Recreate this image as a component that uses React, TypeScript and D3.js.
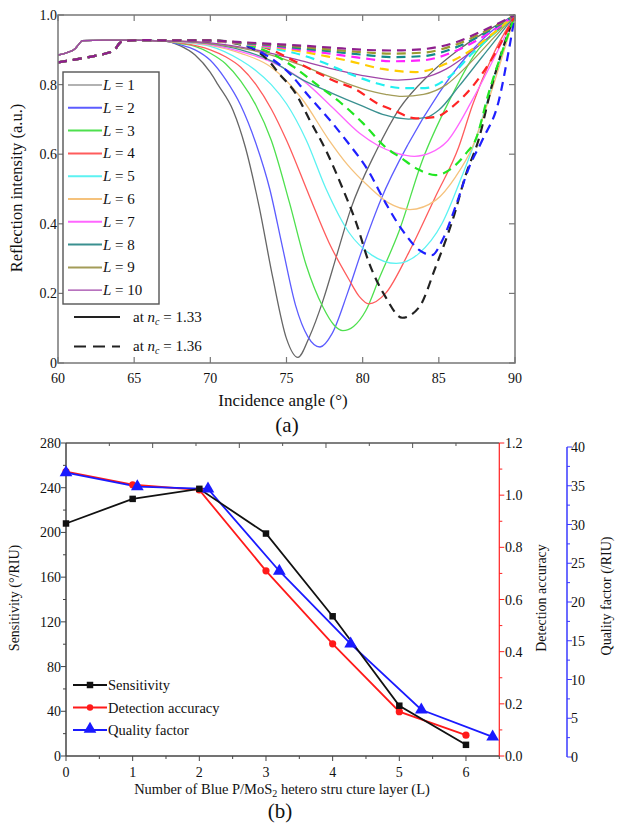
import React from "react";
import * as d3 from "d3";

const W = 617;
const H = 829;
const FONT = '"Liberation Serif", "DejaVu Serif", "Times New Roman", serif';

// ---------- panel (a): reflection curves ----------
const angleTicks = [60, 65, 70, 75, 80, 85, 90];
const reflTicks = [0, 0.2, 0.4, 0.6, 0.8, 1.0];
const layerNames = ["1", "2", "3", "4", "5", "6", "7", "8", "9", "10"];

const solidColors = ["#666666", "#5c5cff", "#4ee04e", "#ff5c5c", "#5cf2f2", "#f5c27c", "#ff66ff", "#3a9090", "#a39c58", "#a045a8"];
const dashedColors = ["#222222", "#1f1fff", "#22e622", "#ff2424", "#22f0f0", "#ffcc00", "#ff22ff", "#128a8a", "#9a9a30", "#8e1e8e"];

// shared flat start of curves (n_c = 1.33 / 1.36)
const headSolid = [[60, 0.885], [60.6, 0.892], [61.1, 0.902], [61.35, 0.915], [61.6, 0.926], [63, 0.928], [65, 0.928], [67, 0.925]];
const headDashed = [[60, 0.864], [61, 0.871], [62, 0.879], [63, 0.888], [63.7, 0.899], [64, 0.917], [64.3, 0.926], [66, 0.928], [67, 0.927]];

// n_c = 1.33
const l1Solid = [[68, 0.912], [69, 0.885], [70, 0.835], [70.5, 0.8], [71.5, 0.725], [72.3, 0.62], [73.2, 0.45], [74.1, 0.245], [75, 0.07], [75.75, 0.016], [76.5, 0.075], [77.4, 0.18], [78.3, 0.31], [79.2, 0.44], [80.9, 0.61], [82.4, 0.73], [84.4, 0.83], [86.3, 0.9], [88, 0.95], [90, 1]];
const l2Solid = [[68, 0.915], [69, 0.9], [70, 0.87], [71, 0.815], [72, 0.74], [73, 0.63], [73.9, 0.5], [74.75, 0.33], [75.6, 0.165], [76.4, 0.076], [77.2, 0.046], [78, 0.085], [79, 0.2], [80, 0.33], [81.2, 0.47], [83, 0.63], [85, 0.775], [86.8, 0.88], [88.5, 0.955], [90, 1]];
const l3Solid = [[68, 0.918], [69, 0.91], [70, 0.89], [71, 0.86], [72, 0.81], [73, 0.74], [74, 0.64], [75.2, 0.46], [76.3, 0.28], [77.4, 0.16], [78.1, 0.11], [78.7, 0.093], [79.4, 0.105], [80.2, 0.15], [81.1, 0.245], [82.4, 0.38], [83.9, 0.58], [85.7, 0.755], [87.4, 0.89], [89.4, 0.975], [90, 1]];
const l4Solid = [[68, 0.92], [70, 0.9], [71, 0.88], [72, 0.85], [73, 0.8], [74, 0.73], [75, 0.64], [76.5, 0.48], [77.8, 0.345], [79.1, 0.24], [79.8, 0.19], [80.4, 0.17], [81.5, 0.2], [83, 0.315], [84.8, 0.48], [86.3, 0.62], [87.2, 0.74], [88.5, 0.88], [90, 1]];
const l5Solid = [[68, 0.922], [70, 0.91], [72, 0.87], [73, 0.84], [74, 0.8], [75, 0.745], [76.3, 0.64], [77.6, 0.5], [79.1, 0.375], [80.6, 0.31], [82.2, 0.286], [83.7, 0.315], [85.2, 0.4], [86.5, 0.535], [87.4, 0.64], [88.5, 0.8], [89.3, 0.91], [90, 1]];
const l6Solid = [[68, 0.923], [70, 0.913], [72, 0.89], [74, 0.85], [76, 0.76], [77.8, 0.64], [79, 0.57], [80.4, 0.507], [81.7, 0.46], [83.1, 0.441], [84.8, 0.468], [86.1, 0.535], [87.2, 0.62], [88.3, 0.76], [89.3, 0.9], [90, 1]];
const l7Solid = [[68, 0.924], [70, 0.915], [72, 0.895], [74, 0.865], [76, 0.815], [78, 0.735], [79.8, 0.66], [81, 0.625], [82.2, 0.603], [83.4, 0.594], [84.5, 0.605], [85.5, 0.635], [87.2, 0.756], [88.9, 0.9], [90, 1]];
const l8Solid = [[68, 0.924], [70, 0.917], [72, 0.9], [74, 0.868], [76, 0.815], [78, 0.775], [80, 0.738], [81.5, 0.712], [83, 0.701], [84.2, 0.706], [85, 0.727], [86.3, 0.794], [87.85, 0.88], [89.3, 0.96], [90, 1]];
const l9Solid = [[68, 0.925], [70, 0.918], [72, 0.905], [74, 0.885], [76, 0.855], [78, 0.82], [80, 0.788], [81.5, 0.772], [82.6, 0.766], [84, 0.772], [85.5, 0.8], [87, 0.86], [88.5, 0.93], [90, 1]];
const l10Solid = [[68, 0.925], [70, 0.92], [72, 0.908], [74, 0.89], [76, 0.868], [78, 0.845], [80, 0.826], [82.3, 0.813], [84, 0.82], [85.5, 0.845], [87, 0.89], [88.5, 0.945], [90, 1]];

// n_c = 1.36
const l1Dashed = [[70, 0.925], [72, 0.915], [73, 0.898], [74, 0.86], [74.5, 0.832], [75.6, 0.775], [76.5, 0.7], [77.6, 0.61], [78.7, 0.5], [79.6, 0.4], [80.4, 0.29], [81.5, 0.19], [82.6, 0.13], [83.7, 0.16], [84.8, 0.277], [85.9, 0.41], [86.8, 0.545], [87.6, 0.64], [88.5, 0.8], [89.4, 0.93], [90, 1]];
const l2Dashed = [[70, 0.926], [72, 0.918], [73, 0.9], [74, 0.875], [75.2, 0.832], [76.5, 0.765], [78, 0.69], [79, 0.635], [80.4, 0.55], [81.5, 0.46], [82.6, 0.382], [83.7, 0.325], [84.55, 0.31], [85.2, 0.35], [86.1, 0.45], [87, 0.564], [87.85, 0.64], [88.95, 0.756], [89.6, 0.9], [90, 1]];
const l3Dashed = [[70, 0.926], [72, 0.918], [74, 0.89], [75.5, 0.85], [77, 0.8], [78.5, 0.75], [80, 0.69], [81.5, 0.62], [82.5, 0.59], [83.7, 0.555], [84.8, 0.54], [85.7, 0.555], [86.8, 0.603], [87.4, 0.64], [88.3, 0.78], [89.2, 0.9], [90, 1]];
const l4Dashed = [[70, 0.926], [72, 0.92], [74, 0.9], [75.4, 0.87], [77, 0.835], [78, 0.813], [79.6, 0.785], [81, 0.745], [82, 0.727], [83.5, 0.703], [84.8, 0.707], [85.9, 0.737], [87.2, 0.794], [88.7, 0.89], [90, 1]];
const l5Dashed = [[70, 0.926], [72, 0.918], [74, 0.905], [76, 0.885], [77.5, 0.862], [79.1, 0.832], [80.9, 0.804], [82.6, 0.79], [84.1, 0.79], [85.7, 0.823], [87.2, 0.89], [88.7, 0.95], [90, 1]];
const l6Dashed = [[70, 0.926], [72, 0.918], [74, 0.908], [76, 0.895], [78, 0.878], [79.1, 0.868], [81.3, 0.845], [83.5, 0.836], [85.2, 0.855], [86.8, 0.89], [88.5, 0.945], [90, 1]];
const l7Dashed = [[70, 0.926], [72, 0.919], [74, 0.91], [76, 0.9], [78, 0.888], [80, 0.876], [82, 0.867], [84, 0.87], [86, 0.895], [88, 0.94], [90, 1]];
const l8Dashed = [[70, 0.927], [72, 0.92], [74, 0.913], [76, 0.904], [78, 0.895], [80, 0.886], [82, 0.879], [84, 0.882], [86, 0.905], [88, 0.947], [90, 1]];
const l9Dashed = [[70, 0.927], [72, 0.921], [74, 0.915], [76, 0.908], [78, 0.9], [80, 0.893], [82, 0.889], [84, 0.892], [86, 0.913], [88, 0.952], [90, 1]];
const l10Dashed = [[70, 0.927], [72, 0.922], [74, 0.917], [76, 0.912], [78, 0.906], [80, 0.9], [82, 0.898], [84, 0.902], [86, 0.92], [88, 0.957], [90, 1]];

const solidTails = [l1Solid, l2Solid, l3Solid, l4Solid, l5Solid, l6Solid, l7Solid, l8Solid, l9Solid, l10Solid];
const dashedTails = [l1Dashed, l2Dashed, l3Dashed, l4Dashed, l5Dashed, l6Dashed, l7Dashed, l8Dashed, l9Dashed, l10Dashed];

// ---------- panel (b): sensor performance ----------
const layers = [0, 1, 2, 3, 4, 5, 6];
const sensitivity = [208, 230, 239, 199, 125, 45, 10];
const detectionAccuracy = [1.09, 1.04, 1.02, 0.71, 0.43, 0.17, 0.08];
const qualityX = [0, 1.07, 2.13, 3.2, 4.27, 5.33, 6.4];
const qualityFactor = [36.7, 34.9, 34.6, 24.0, 14.6, 6.1, 2.6];

const sensTicks = [0, 40, 80, 120, 160, 200, 240, 280];
const daTicks = [0, 0.2, 0.4, 0.6, 0.8, 1.0, 1.2];
const qfTicks = [0, 5, 10, 15, 20, 25, 30, 35, 40];
const layerTicks = [0, 1, 2, 3, 4, 5, 6];

export default function App() {
  // panel a scales
  const xa = d3.scaleLinear().domain([60, 90]).range([58, 515]);
  const ya = d3.scaleLinear().domain([0, 1]).range([363, 15]);
  const lineA = d3
    .line<number[]>()
    .x(d => xa(d[0]))
    .y(d => ya(d[1]))
    .curve(d3.curveMonotoneX);

  // panel b scales
  const xb = d3.scaleLinear().domain([0, 6.5]).range([66, 499.3]);
  const yb = d3.scaleLinear().domain([0, 280]).range([756, 443]);
  const yr = d3.scaleLinear().domain([0, 1.2]).range([756, 443]);
  const yq = d3.scaleLinear().domain([0, 40]).range([757, 447]);

  const lineLinear = d3.line<number[]>().x(d => d[0]).y(d => d[1]);
  const tri = d3.symbol(d3.symbolTriangle, 70)();
  const sq = d3.symbol(d3.symbolSquare, 42)();

  const frameA = "#777";
  const legendY = layerNames.map((_, i) => 85 + i * 22.8);

  return (
    <div style={{ position: "absolute", left: 0, top: 0 }}>
      <svg width={W} height={H} style={{ display: "block", background: "#fff", fontFamily: FONT }}>
        <defs>
          <clipPath id="clipA">
            <rect x={xa(60)} y={ya(1) - 2} width={xa(90) - xa(60)} height={ya(0) - ya(1) + 2} />
          </clipPath>
        </defs>

        {/* ===== panel (a) ===== */}
        <g clipPath="url(#clipA)">
          {solidTails.map((t, i) => (
            <path key={"s" + i} d={lineA([...headSolid, ...t]) || ""} fill="none" stroke={solidColors[i]} strokeWidth={1.3} />
          ))}
          {dashedTails.map((t, i) => (
            <path
              key={"d" + i}
              d={lineA([...headDashed, ...t]) || ""}
              fill="none"
              stroke={dashedColors[i]}
              strokeWidth={2.2}
              strokeDasharray="9,6"
            />
          ))}
        </g>

        <rect x={xa(60)} y={ya(1)} width={xa(90) - xa(60)} height={ya(0) - ya(1)} fill="none" stroke={frameA} strokeWidth={1.5} />
        {angleTicks.map(t => (
          <g key={"ax" + t}>
            <line x1={xa(t)} x2={xa(t)} y1={ya(0)} y2={ya(0) - 6} stroke={frameA} strokeWidth={1.2} />
            <line x1={xa(t)} x2={xa(t)} y1={ya(1)} y2={ya(1) + 6} stroke={frameA} strokeWidth={1.2} />
            <text x={xa(t)} y={ya(0) + 20} fontSize={14} textAnchor="middle" fill="#111">
              {t}
            </text>
          </g>
        ))}
        {reflTicks.map(t => (
          <g key={"ay" + t}>
            <line x1={xa(60)} x2={xa(60) + 6} y1={ya(t)} y2={ya(t)} stroke={frameA} strokeWidth={1.2} />
            <line x1={xa(90)} x2={xa(90) - 6} y1={ya(t)} y2={ya(t)} stroke={frameA} strokeWidth={1.2} />
            <text x={xa(60) - 1} y={ya(t) + 5} fontSize={14} textAnchor="end" fill="#111">
              {t === 0 ? "0" : t.toFixed(1)}
            </text>
          </g>
        ))}
        <text x={283} y={406} fontSize={17} textAnchor="middle" fill="#111">
          Incidence angle (°)
        </text>
        <text transform="translate(22,188) rotate(-90)" fontSize={16.5} textAnchor="middle" fill="#111">
          Reflection intensity (a.u.)
        </text>
        <text x={287} y={432} fontSize={21} textAnchor="middle" fill="#111">
          (a)
        </text>

        {/* legend (a) */}
        <rect x={63} y={72} width={96} height={232} fill="#fff" stroke="#555" strokeWidth={1.4} />
        {layerNames.map((n, i) => (
          <g key={"lg" + i}>
            <line x1={68} x2={102} y1={legendY[i]} y2={legendY[i]} stroke={solidColors[i]} strokeWidth={i === 0 || i === 9 ? 1.2 : 2} />
            <text x={103} y={legendY[i] + 5} fontSize={15} fill="#111">
              <tspan fontStyle="italic">L</tspan> = {n}
            </text>
          </g>
        ))}
        <line x1={74} x2={120} y1={317} y2={317} stroke="#222" strokeWidth={2} />
        <text x={133} y={322} fontSize={15} fill="#111">
          at <tspan fontStyle="italic">n</tspan>
          <tspan fontStyle="italic" fontSize={10} dy={3}>c</tspan>
          <tspan dy={-3}> = 1.33</tspan>
        </text>
        <line x1={74} x2={120} y1={346.5} y2={346.5} stroke="#222" strokeWidth={2} strokeDasharray="12,7" />
        <text x={133} y={351} fontSize={15} fill="#111">
          at <tspan fontStyle="italic">n</tspan>
          <tspan fontStyle="italic" fontSize={10} dy={3}>c</tspan>
          <tspan dy={-3}> = 1.36</tspan>
        </text>

        {/* ===== panel (b) ===== */}
        {/* top frame with its own ticks */}
        <line x1={66} x2={499.3} y1={443} y2={443} stroke="#555" strokeWidth={1.3} />
        {d3.range(1, 10).map(i => (
          <line
            key={"tt" + i}
            x1={66 + (i * (499.3 - 66)) / 10}
            x2={66 + (i * (499.3 - 66)) / 10}
            y1={443}
            y2={443 + (i % 2 === 0 ? 5 : 3)}
            stroke="#555"
            strokeWidth={1}
          />
        ))}

        {/* left axis */}
        <line x1={66} x2={66} y1={443} y2={756} stroke="#444" strokeWidth={1.5} />
        {d3.range(0, 281, 20).map(t => (
          <line key={"lt" + t} x1={66} x2={t % 40 === 0 ? 61 : 63} y1={yb(t)} y2={yb(t)} stroke="#444" strokeWidth={1} />
        ))}
        {sensTicks.map(t => (
          <text key={"ll" + t} x={61} y={yb(t) + 5} fontSize={14} textAnchor="end" fill="#111">
            {t}
          </text>
        ))}

        {/* bottom axis */}
        <line x1={66} x2={499.3} y1={756} y2={756} stroke="#444" strokeWidth={1.5} />
        {d3.range(0, 6.51, 0.5).map(t => (
          <line
            key={"bt" + t}
            x1={xb(t)}
            x2={xb(t)}
            y1={756}
            y2={756 + (Number.isInteger(t) ? 5 : 3)}
            stroke="#444"
            strokeWidth={1}
          />
        ))}
        {layerTicks.map(t => (
          <text key={"bl" + t} x={xb(t)} y={777} fontSize={14} textAnchor="middle" fill="#111">
            {t}
          </text>
        ))}

        {/* red right axis */}
        <line x1={499.3} x2={499.3} y1={443} y2={756} stroke="#ff2020" strokeWidth={1.2} />
        {d3.range(0, 13).map(i => (
          <line
            key={"rt" + i}
            x1={499.3}
            x2={499.3 + (i % 2 === 0 ? 5 : 3)}
            y1={yr(i / 10)}
            y2={yr(i / 10)}
            stroke="#ff2020"
            strokeWidth={1}
          />
        ))}
        {daTicks.map(t => (
          <text key={"rl" + t} x={505} y={yr(t) + 5} fontSize={14} fill="#111">
            {t.toFixed(1)}
          </text>
        ))}

        {/* blue quality-factor axis */}
        <line x1={567} x2={567} y1={447} y2={757} stroke="#3a3aff" strokeWidth={1.5} />
        {d3.range(0, 41, 2.5).map(t => (
          <line
            key={"qt" + t}
            x1={567}
            x2={567 + (t % 5 === 0 ? 5 : 3)}
            y1={yq(t)}
            y2={yq(t)}
            stroke="#3a3aff"
            strokeWidth={1}
          />
        ))}
        {qfTicks.map(t => (
          <text key={"ql" + t} x={571} y={yq(t) + 5} fontSize={14} fill="#111">
            {t}
          </text>
        ))}

        {/* series */}
        <path
          d={lineLinear(layers.map((l, i) => [xb(l), yr(detectionAccuracy[i])])) || ""}
          fill="none"
          stroke="#ff1a1a"
          strokeWidth={1.8}
        />
        <path
          d={lineLinear(qualityX.map((l, i) => [xb(l), yq(qualityFactor[i])])) || ""}
          fill="none"
          stroke="#1a1aff"
          strokeWidth={1.8}
        />
        <path
          d={lineLinear(layers.map((l, i) => [xb(l), yb(sensitivity[i])])) || ""}
          fill="none"
          stroke="#111"
          strokeWidth={1.8}
        />
        {layers.map((l, i) => (
          <circle key={"dc" + i} cx={xb(l)} cy={yr(detectionAccuracy[i])} r={3.6} fill="#ff1a1a" />
        ))}
        {qualityX.map((l, i) => (
          <path key={"qm" + i} d={tri || ""} transform={`translate(${xb(l)},${yq(qualityFactor[i])})`} fill="#1a1aff" />
        ))}
        {layers.map((l, i) => (
          <path key={"sm" + i} d={sq || ""} transform={`translate(${xb(l)},${yb(sensitivity[i])})`} fill="#111" />
        ))}

        {/* legend (b) */}
        <line x1={73} x2={107} y1={685} y2={685} stroke="#111" strokeWidth={1.8} />
        <path d={sq || ""} transform="translate(90,685)" fill="#111" />
        <text x={108} y={690} fontSize={14.5} fill="#111">Sensitivity</text>
        <line x1={73} x2={107} y1={707.5} y2={707.5} stroke="#ff1a1a" strokeWidth={1.8} />
        <circle cx={90} cy={707.5} r={3.2} fill="#ff1a1a" />
        <text x={108} y={712.5} fontSize={14.5} fill="#111">Detection accuracy</text>
        <line x1={73} x2={107} y1={730} y2={730} stroke="#1a1aff" strokeWidth={1.8} />
        <path d={tri || ""} transform="translate(90,729)" fill="#1a1aff" />
        <text x={108} y={735} fontSize={14.5} fill="#111">Quality factor</text>

        {/* axis titles (b) */}
        <text transform="translate(19,598) rotate(-90)" fontSize={14} textAnchor="middle" fill="#111">
          Sensitivity (°/RIU)
        </text>
        <text transform="translate(546,598) rotate(-90)" fontSize={14} textAnchor="middle" fill="#111">
          Detection accuracy
        </text>
        <text transform="translate(611,596) rotate(-90)" fontSize={14} textAnchor="middle" fill="#111">
          Quality factor (/RIU)
        </text>
        <text x={282} y={794} fontSize={14.5} textAnchor="middle" fill="#111">
          Number of Blue P/MoS<tspan fontSize={10} dy={3}>2</tspan>
          <tspan dy={-3}> hetero stru cture layer (L)</tspan>
        </text>
        <text x={280} y={818} fontSize={21} textAnchor="middle" fill="#111">
          (b)
        </text>
      </svg>
    </div>
  );
}
